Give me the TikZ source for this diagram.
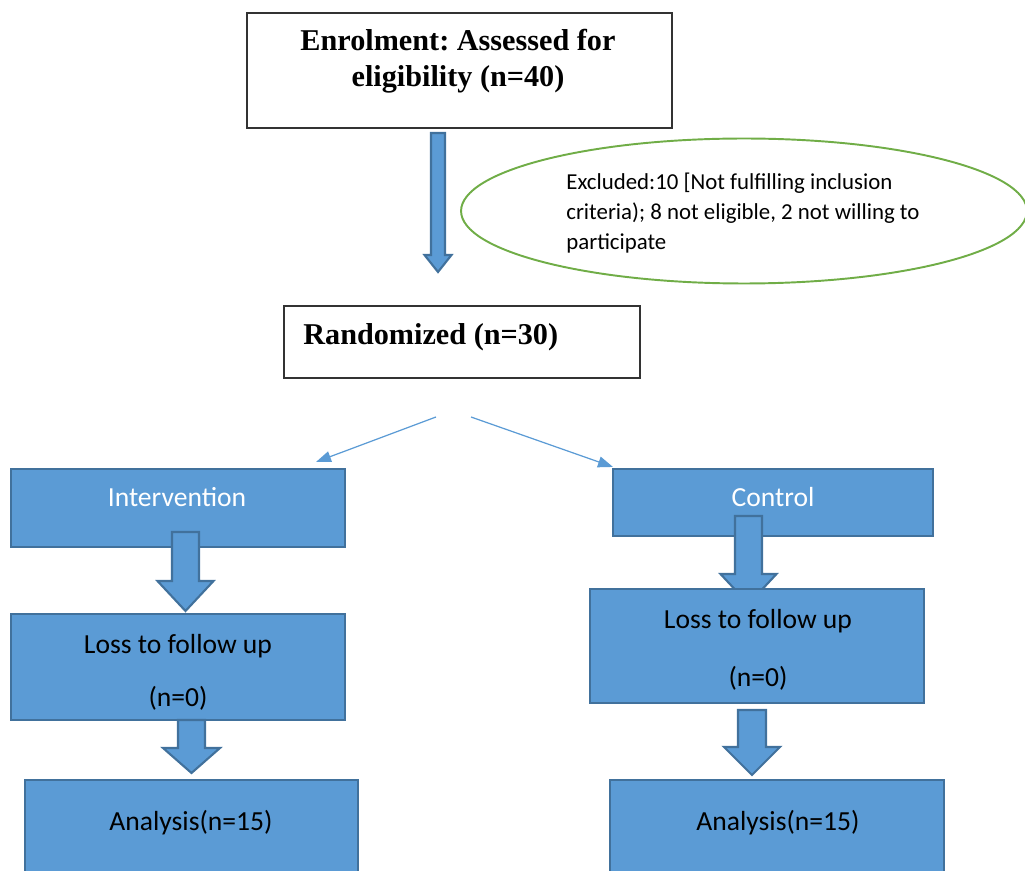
\documentclass[tikz,border=0pt]{standalone}
\usepackage{fontspec}
\setmainfont{Carlito}
\newfontfamily\headfont{Liberation Serif}
\usetikzlibrary{shapes.geometric,arrows.meta,calc}
\definecolor{boxblue}{HTML}{5B9BD5}
\definecolor{boxedge}{HTML}{41719C}
\definecolor{exclgreen}{HTML}{70AD47}
\frenchspacing

\begin{document}
\begin{tikzpicture}[
      x=0.02cm, y=-0.02cm,
      headbox/.style={rectangle, draw=black!80, line width=0.8pt},
      bluebox/.style={rectangle, draw=boxedge, fill=boxblue, line width=1.2pt},
      exclellipse/.style={ellipse, draw=exclgreen, line width=1.1pt, inner sep=0pt},
      headtext/.style={inner sep=0pt, align=center, font=\headfont\bfseries\fontsize{17.2}{20.5}\selectfont},
      smalltext/.style={inner sep=0pt, align=left, font=\fontsize{13}{17.2}\selectfont},
      whitetext/.style={inner sep=0pt, text=white, font=\fontsize{15.7}{19}\selectfont},
      blacktext/.style={inner sep=0pt, align=center, font=\fontsize{15.7}{#1}\selectfont},
      blockarrow/.style n args={3}{draw=boxedge, fill=boxblue, line width=1.2pt,
        to path={let \p1=(\tikztostart), \p2=(\tikztotarget) in
          (\x1-#1,\y1) -- (\x1+#1,\y1) -- (\x1+#1,\y2+#3) -- (\x1+#2,\y2+#3) -- (\x1,\y2)
          -- (\x1-#2,\y2+#3) -- (\x1-#1,\y2+#3) -- cycle}},
      thinarrow/.style={boxblue, line width=0.7pt, -{Triangle[length=0.3cm,width=0.22cm]}}
    ]
      \useasboundingbox (0,0) rectangle (1025,871);

      % enrolment
      \node[headbox, minimum width=8.5cm, minimum height=2.3cm] (enrol) at (459.5,70.5) {};
      \node[headtext] (enroltext) at (458,61) {Enrolment: Assessed for\\eligibility (n=40)};

      \coordinate (ea) at (438,133);
      \coordinate (eb) at (438,272);
      \draw[blockarrow={0.14cm}{0.27cm}{0.34cm}] (ea) to (eb);

      \node[exclellipse, minimum width=11.32cm, minimum height=2.9cm] (excl) at (744,211) {};
      \node[smalltext, anchor=west] (excltext) at (566,213)
        {Excluded:10 [Not fulfilling inclusion\\criteria); 8 not eligible, 2 not willing to\\participate};

      % randomisation
      \node[headbox, minimum width=7.12cm, minimum height=1.44cm] (rand) at (462,342) {};
      \node[headtext, anchor=west] (randtext) at (303,337) {Randomized (n=30)};

      \coordinate (rl) at (436,417);
      \coordinate (rr) at (471,417);

      % groups
      \node[bluebox, minimum width=6.68cm, minimum height=1.56cm] (int) at (178,508) {};
      \node[whitetext] (inttext) at (177,497) {Intervention};
      \node[bluebox, minimum width=6.4cm, minimum height=1.34cm] (ctrl) at (773,502.5) {};
      \node[whitetext] (ctrltext) at (773,497) {Control};

      \draw[thinarrow] (rl) -- ($(int.north east)+(-30,-6)$);
      \draw[thinarrow] (rr) -- ($(ctrl.north west)+(1,-1)$);

      \coordinate (ia) at (185.5,532);
      \coordinate (ib) at (185.5,611);
      \draw[blockarrow={0.27cm}{0.56cm}{0.6cm}] (ia) to (ib);
      \coordinate (ca) at (748.5,516);
      \coordinate (cb) at (748.5,604);
      \draw[blockarrow={0.27cm}{0.56cm}{0.6cm}] (ca) to (cb);

      % follow up
      \node[bluebox, minimum width=6.68cm, minimum height=2.12cm] (lossl) at (178,667) {};
      \node[blacktext=30.2pt] (lossltext) at (178,672) {Loss to follow up\\(n=0)};
      \node[bluebox, minimum width=6.68cm, minimum height=2.28cm] (lossr) at (757,646) {};
      \node[blacktext=33pt] (lossrtext) at (758,650) {Loss to follow up\\(n=0)};

      \coordinate (la) at (191.5,720);
      \coordinate (lb) at (191.5,773);
      \draw[blockarrow={0.27cm}{0.57cm}{0.5cm}] (la) to (lb);
      \coordinate (ra) at (752,710);
      \coordinate (rb) at (752,775);
      \draw[blockarrow={0.28cm}{0.56cm}{0.56cm}] (ra) to (rb);

      % analysis
      \node[bluebox, minimum width=6.66cm, minimum height=2.1cm] (anl) at (191.5,832.5) {};
      \node[blacktext=19pt] (anltext) at (191,823) {Analysis(n=15)};
      \node[bluebox, minimum width=6.68cm, minimum height=2.1cm] (anr) at (777,832.5) {};
      \node[blacktext=19pt] (anrtext) at (778,823) {Analysis(n=15)};

\end{tikzpicture}
\end{document}
